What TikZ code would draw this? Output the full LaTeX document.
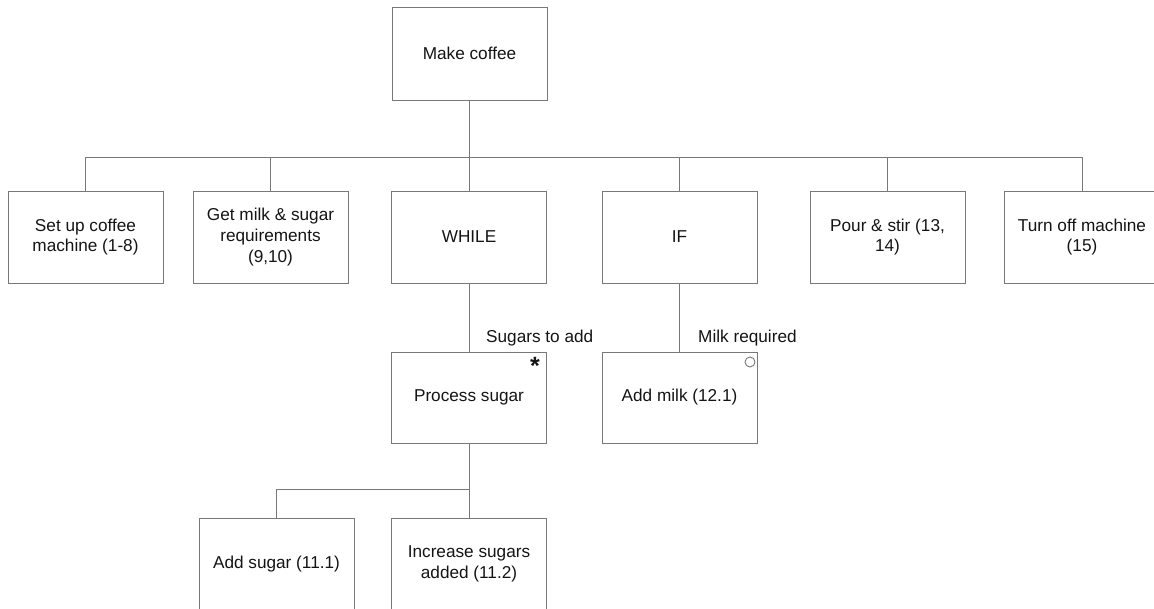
\documentclass[tikz,border=0pt]{standalone}
\usepackage{fontspec}
\setmainfont{Liberation Sans}
\definecolor{linegray}{RGB}{120,120,120}
\definecolor{txt}{RGB}{20,20,20}
\begin{document}
\begin{tikzpicture}[x=1pt,y=1pt,
  box/.style={draw=linegray, line width=0.9pt, minimum width=155pt, minimum height=92pt,
    inner sep=0pt, align=center, text=txt,
    font=\fontsize{17.2pt}{20.7pt}\selectfont},
  conn/.style={draw=linegray, line width=0.9pt},
  lbl/.style={anchor=west, inner sep=0pt, text=txt, font=\fontsize{17.2pt}{20.7pt}\selectfont}
]
\useasboundingbox (0,0) rectangle (1154,-609);
\clip (0,0) rectangle (1154,-609);

\node[box, minimum height=93pt] (make) at (469.5,-53.5) {Make coffee};

\node[box] (setup) at (85.5,-237) {Set up coffee\\machine (1-8)};
\node[box] (getms) at (270.5,-237) {Get milk \& sugar\\requirements\\(9,10)};
\node[box] (while) at (469,-237) {WHILE};
\node[box] (if)    at (679.5,-237) {IF};
\node[box] (pour)  at (887.5,-237) {Pour \& stir (13,\\14)};
\node[box] (off)   at (1082,-237) {Turn off machine\\(15)};

\node[box, minimum height=91pt] (proc) at (469,-397.5) {Process sugar};
\node[box, minimum height=91pt] (milk) at (679.5,-397.5) {Add milk (12.1)};

\node[box] (adds) at (276.5,-564) {Add sugar (11.1)};
\node[box] (inc)  at (469,-564) {Increase sugars\\added (11.2)};

\coordinate (b1) at (469.5,-157);
\draw[conn] (make.south) -- (b1);
\foreach \n in {setup,getms,while,if,pour,off} {
  \draw[conn] (b1) -| (\n.north);
}
\draw[conn] (while.south) -- (while.south |- proc.north);
\draw[conn] (if.south) -- (if.south |- milk.north);

\coordinate (b2) at (469,-489);
\draw[conn] (proc.south) -- (b2);
\draw[conn] (b2) -| (adds.north);
\draw[conn] (b2) -- (inc.north);

\node[lbl] (lsug) at (486,-338) {Sugars to add};
\node[lbl] (lmilk) at (698,-338) {Milk required};

\node[anchor=north east, inner sep=0pt, text=txt, font=\fontsize{25pt}{25pt}\selectfont\bfseries] (star) at (540,-357) {*};
\node[circle, draw=linegray, line width=0.9pt, minimum size=10pt, inner sep=0pt] (opt) at (750,-362) {};
\end{tikzpicture}
\end{document}
